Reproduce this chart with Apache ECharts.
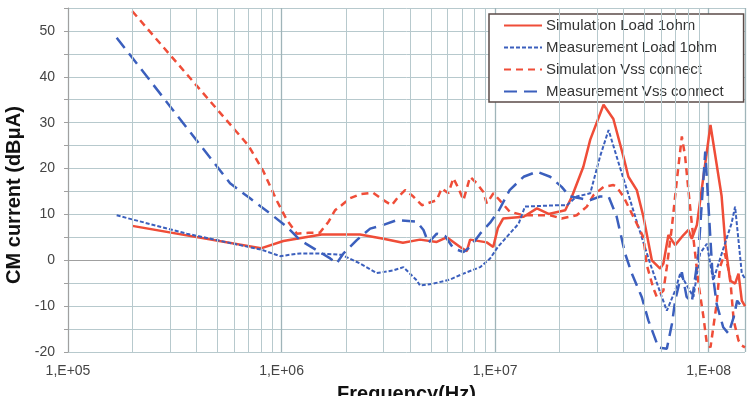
<!DOCTYPE html>
<html>
<head>
<meta charset="utf-8">
<script src="https://cdn.jsdelivr.net/npm/echarts@6/dist/echarts.min.js"></script>
<style>
  html, body { margin: 0; padding: 0; background: #fff; }
  #chart { width: 749px; height: 396px; }
</style>
</head>
<body>
<div id="chart"></div>
<script>
// 频率 (Hz) / 电流 (dBμA) 数据，读自原图
const simLoad1ohm = [
  [2e5, 7.5], [8e5, 2.6], [1.02e6, 4.2], [1.54e6, 5.6], [2.33e6, 5.6], [3.0e6, 4.7],
  [3.7e6, 3.8], [4.45e6, 4.5], [5.33e6, 4.0], [5.94e6, 5.0], [6.86e6, 2.9], [7.37e6, 2.0],
  [7.64e6, 4.5], [9.14e6, 3.9], [9.8e6, 2.9], [1.03e7, 7.0], [1.09e7, 9.1], [1.36e7, 9.5],
  [1.57e7, 11.3], [1.78e7, 10.1], [2.13e7, 10.9], [2.29e7, 13.9], [2.59e7, 20.4], [2.79e7, 26.3],
  [3.22e7, 33.9], [3.58e7, 30.8], [3.99e7, 22.6], [4.21e7, 18.2], [4.61e7, 15.3], [4.95e7, 9.5],
  [5.42e7, 0], [5.93e7, -1.8], [6.14e7, -0.7], [6.48e7, 5.5], [6.97e7, 3.3], [7.62e7, 5.5],
  [8.04e7, 6.6], [8.34e7, 4.7], [8.81e7, 7.7], [1.02e8, 29.5], [1.15e8, 14], [1.2e8, 3],
  [1.26e8, -4.4], [1.33e8, -5.1], [1.38e8, -2.9], [1.43e8, -8.8], [1.48e8, -10]
];

const measLoad1ohm = [
  [1.69e5, 9.8], [3.6e5, 5.8], [8.07e5, 2.3], [9.84e5, 0.9], [1.22e6, 1.5], [1.46e6, 1.5],
  [1.91e6, 1.2], [2.33e6, -0.7], [2.79e6, -2.8], [3.34e6, -2.2], [3.72e6, -1.5], [4.3e6, -4.4],
  [4.45e6, -5.5], [5.14e6, -5.1], [6.15e6, -4.2], [7.11e6, -2.9], [8.51e6, -1.5], [9.48e6, 0.4],
  [1.03e7, 2.9], [1.29e7, 8.0], [1.38e7, 11.7], [1.95e7, 12], [2.17e7, 12], [2.41e7, 13.9],
  [2.79e7, 14.6], [3.1e7, 22.6], [3.4e7, 28.4], [3.8e7, 21], [4.29e7, 13.1], [4.61e7, 8.4],
  [5.32e7, -0.7], [5.93e7, -7], [6.37e7, -11], [6.97e7, -6.6], [7.36e7, -2.9], [8.49e7, -8],
  [9.12e7, 1.5], [9.81e7, 3.6], [1.05e8, -4.4], [1.22e8, 5.1], [1.28e8, 8], [1.33e8, 11.7],
  [1.43e8, -2.9], [1.48e8, -4]
];

const simVssConnect = [
  [2e5, 54.3], [7e5, 25], [8.2e5, 19.5], [9.5e5, 13], [1.06e6, 8.75], [1.18e6, 5.8],
  [1.34e6, 6], [1.51e6, 6], [1.66e6, 8.4], [1.78e6, 10.9], [1.91e6, 12], [2.09e6, 13.5],
  [2.33e6, 14.4], [2.69e6, 14.7], [3.0e6, 13.1], [3.28e6, 12], [3.53e6, 13.9], [3.79e6, 15.3],
  [4.14e6, 13.9], [4.54e6, 12], [5.33e6, 13.1], [5.62e6, 15.7], [6.04e6, 14.6], [6.38e6, 17.9],
  [6.73e6, 15.7], [7.11e6, 13.1], [7.64e6, 18.2], [8.2e6, 16.8], [8.81e6, 14.9], [9.14e6, 12.4],
  [9.82e6, 14.6], [1.05e7, 13.1], [1.17e7, 10.6], [1.36e7, 9.8], [1.81e7, 9.8], [2.05e7, 9.1],
  [2.41e7, 9.8], [2.69e7, 11.7], [2.89e7, 14.2], [3.22e7, 16], [3.58e7, 16.4], [3.71e7, 16],
  [3.99e7, 13.9], [4.44e7, 9.5], [4.95e7, 5], [5.13e7, -1], [5.5e7, -6], [5.72e7, -8],
  [6.14e7, -6.6], [6.37e7, -1.5], [6.73e7, 7.3], [7.1e7, 17.5], [7.49e7, 27], [7.76e7, 22.6],
  [8.04e7, 15.3], [8.34e7, 8], [8.96e7, -5.1], [9.46e7, -12.4], [9.81e7, -18.2], [1.02e8, -19],
  [1.09e8, -9.5], [1.13e8, -1.5], [1.19e8, 1.5], [1.26e8, -3.6], [1.31e8, -13.1], [1.38e8, -17.5],
  [1.43e8, -18.6], [1.48e8, -19]
];

const measVssConnect = [
  [1.69e5, 48.5], [5.74e5, 16.8], [7.12e5, 13.5], [8.83e5, 10.2], [1.06e6, 7.3], [1.22e6, 4.4],
  [1.46e6, 2.2], [1.69e6, 0.4], [1.81e6, -0.7], [1.95e6, 1.5], [2.25e6, 4.4], [2.6e6, 6.9],
  [3.0e6, 7.7], [3.46e6, 8.75], [4.3e6, 8.4], [4.62e6, 6.6], [4.87e6, 3.8], [5.33e6, 5.8],
  [5.83e6, 5.3], [6.38e6, 2.6], [7.11e6, 1.8], [7.64e6, 2.9], [8.51e6, 5.8], [9.48e6, 8.2],
  [1.04e7, 10.8], [1.17e7, 15.3], [1.36e7, 18.2], [1.57e7, 19.3], [1.81e7, 18.2], [2.05e7, 16],
  [2.24e7, 13.9], [2.5e7, 13.5], [2.79e7, 13.1], [3.1e7, 13.9], [3.4e7, 13.9], [3.71e7, 9.5],
  [4.06e7, 1.5], [4.37e7, -2.9], [4.86e7, -8], [5.22e7, -13.1], [5.82e7, -19], [6.37e7, -19.3],
  [6.73e7, -13.9], [6.97e7, -8.8], [7.49e7, -2.6], [7.89e7, -8], [8.34e7, -9.1], [8.96e7, 1.5],
  [9.64e7, 23.7], [1.04e8, -2.2], [1.09e8, -9.5], [1.17e8, -14.6], [1.24e8, -16], [1.31e8, -12.4],
  [1.36e8, -8.8], [1.43e8, -10.2]
];

// 对数轴次网格线（每个十倍频程内的 2..9）
const minorFreqs = [
  2e5, 3e5, 4e5, 5e5, 6e5, 7e5, 8e5, 9e5,
  2e6, 3e6, 4e6, 5e6, 6e6, 7e6, 8e6, 9e6,
  2e7, 3e7, 4e7, 5e7, 6e7, 7e7, 8e7, 9e7
];

const seriesNames = [
  'Simulation Load 1ohm',
  'Measurement Load 1ohm',
  'Simulation Vss connect',
  'Measurement Vss connect'
];

const RED = '#ef4d38';
const BLUE = '#3b5fbd';
const GRID = '#b7c9cd';
const FONT = 'Liberation Sans, Arial, sans-serif';

const chart = echarts.init(document.getElementById('chart'));

function lineSeries(name, data, color, type, width) {
  return {
    name: name,
    type: 'line',
    data: data,
    symbol: 'none',
    showSymbol: false,
    z: 3,
    itemStyle: { color: color },
    lineStyle: { color: color, width: width, type: type }
  };
}

const option = {
  animation: false,
  backgroundColor: '#fff',
  grid: { left: 68, right: 4, top: 8, bottom: 44, containLabel: false, outerBoundsMode: 'none' },
  legend: {
    data: seriesNames,
    orient: 'vertical',
    left: 489,
    top: 14,
    padding: [4, 20, 3, 14],
    itemWidth: 38,
    itemHeight: 14,
    itemGap: 7,
    backgroundColor: '#fff',
    borderColor: '#5b4b48',
    borderWidth: 1.5,
    // 图例中只画线，不画圆点
    itemStyle: { opacity: 0 },
    textStyle: { fontFamily: FONT, fontSize: 15, color: '#333', lineHeight: 15, padding: [0, 0, 0, -1] }
  },
  xAxis: {
    type: 'log',
    logBase: 10,
    min: 1e5,
    max: 1.48e8,
    name: 'Frequency(Hz)',
    nameLocation: 'middle',
    nameGap: 32,
    nameTextStyle: { fontFamily: FONT, fontSize: 20, fontWeight: 'bold', color: '#111' },
    axisLine: { show: true, lineStyle: { color: '#a0a0a0', width: 1 } },
    axisTick: { show: false },
    axisLabel: {
      margin: 12,
      fontFamily: FONT,
      fontSize: 14,
      color: '#444',
      formatter: function (v) {
        const e = Math.log10(v);
        if (Math.abs(e - Math.round(e)) < 1e-6) {
          return '1,E+' + String(Math.round(e)).padStart(2, '0');
        }
        return '';
      }
    },
    splitLine: { show: true, lineStyle: { color: '#9fb4b9', width: 1.3 } }
  },
  yAxis: {
    type: 'value',
    min: -20,
    max: 55,
    interval: 5,
    axisLine: { show: true, lineStyle: { color: '#a0a0a0', width: 1 } },
    axisTick: { show: true, length: 4, lineStyle: { color: '#a0a0a0' } },
    axisLabel: {
      margin: 13,
      fontFamily: FONT,
      fontSize: 14,
      color: '#444',
      formatter: function (v) {
        return (v % 10 === 0 && v <= 50) ? String(v) : '';
      }
    },
    splitLine: { show: true, lineStyle: { color: GRID, width: 1 } }
  },
  graphic: [{
    type: 'text',
    x: 14,
    y: 195,
    rotation: Math.PI / 2,
    style: {
      text: 'CM current (dBμA)',
      font: 'bold 20px ' + FONT,
      fill: '#111',
      align: 'center',
      verticalAlign: 'middle'
    }
  }],
  series: [
    {
      // 次网格线
      name: 'minor-grid',
      type: 'line',
      data: [],
      z: 1,
      silent: true,
      markLine: {
        silent: true,
        symbol: 'none',
        label: { show: false },
        lineStyle: { color: GRID, width: 1, type: 'solid' },
        data: minorFreqs.map(f => ({ xAxis: f }))
      }
    },
    lineSeries(seriesNames[0], simLoad1ohm, RED, 'solid', 2.5),
    lineSeries(seriesNames[1], measLoad1ohm, BLUE, [4, 2], 2),
    lineSeries(seriesNames[2], simVssConnect, RED, [7, 5], 2.5),
    lineSeries(seriesNames[3], measVssConnect, BLUE, [13, 7], 2.5)
  ]
};

chart.setOption(option);
</script>
</body>
</html>
